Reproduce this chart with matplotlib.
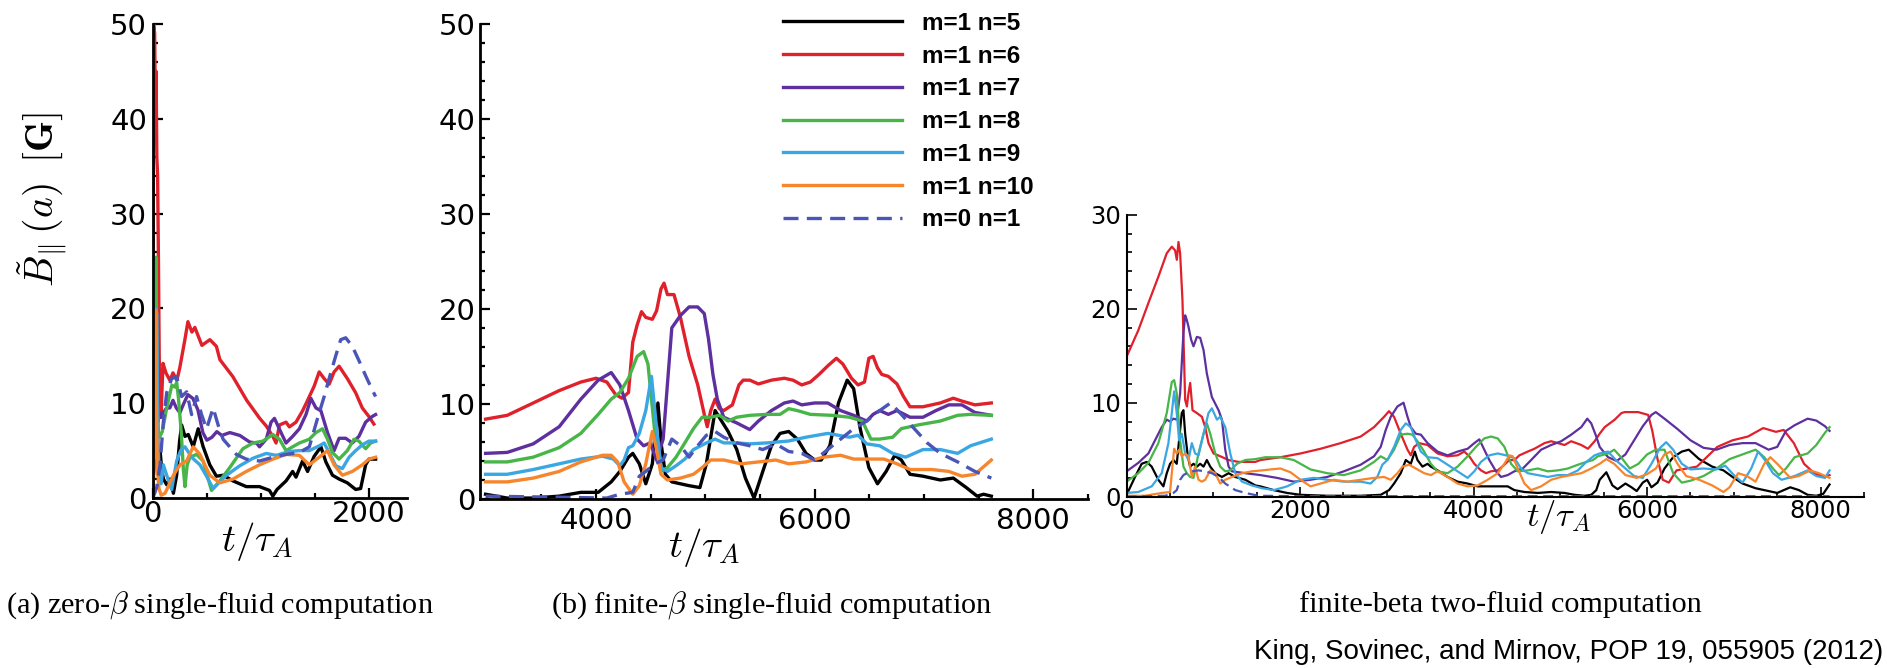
import matplotlib
matplotlib.use("Agg")
import matplotlib.pyplot as plt
from matplotlib.ticker import MultipleLocator, FixedLocator

plt.rcParams['mathtext.fontset'] = 'cm'

# series labels / colours
LABELS = ['m=1 n=5', 'm=1 n=6', 'm=1 n=7', 'm=1 n=8', 'm=1 n=9', 'm=1 n=10', 'm=0 n=1']
COLORS = ['#000000', '#e0202a', '#5e2f9e', '#47b548', '#3aa6e2', '#f7852c', '#4a55b8']

# ---- (a) zero-beta single-fluid: (t/tau_A, B [G]) ----
A_N5 = [(0, 0.2), (12, 3), (24, 5.8), (40, 4), (55, 3.9), (70, 5.0), (85, 3), (101, 2.0), (131, 1.4),
        (162, 2.0), (193, 0.5), (223, 2.4), (250, 6), (269, 7.7), (300, 6.5), (330, 6.7), (376, 5.4),
        (422, 7.3), (468, 5.4), (529, 3.5), (590, 2.3), (652, 2.4), (744, 1.8), (866, 1.2), (988, 1.2),
        (1080, 0.8), (1111, 0.2), (1150, 0.9), (1233, 1.8), (1294, 2.8), (1325, 2.2), (1386, 3.9),
        (1432, 2.8), (1493, 4.4), (1555, 5.4), (1601, 3.8), (1662, 2.4), (1723, 2.0), (1799, 1.6),
        (1876, 0.9), (1922, 1.0), (1968, 3.5), (1998, 4.1), (2060, 4.1)]
A_N6 = [(0, 1), (5, 20), (10, 50), (20, 49), (27, 40), (33, 45), (40, 36), (47, 34), (55, 25), (62, 15),
        (70, 10), (80, 9), (97, 14.2), (124, 13.2), (161, 12.4), (189, 13.2), (225, 12.4), (253, 13.8),
        (299, 16.7), (327, 18.6), (364, 17.5), (391, 18.0), (456, 16.1), (530, 16.7), (590, 16.0),
        (622, 14.6), (742, 12.8), (870, 10.3), (990, 8.4), (1050, 7.6), (1111, 6.5), (1141, 5.8),
        (1172, 7.7), (1233, 8.0), (1264, 7.5), (1325, 8.0), (1386, 9.2), (1432, 10.3), (1493, 11.8),
        (1539, 13.3), (1585, 12.6), (1631, 12.0), (1677, 13.3), (1723, 13.9), (1799, 12.6),
        (1876, 11.1), (1937, 9.5), (1998, 8.6), (2044, 7.8)]
A_N7 = [(0, 0.5), (10, 8), (18, 15), (23, 21.2), (30, 14), (40, 9), (50, 8), (65, 9), (80, 8.5),
        (100, 9.0), (130, 9.5), (160, 9.5), (189, 10.3), (220, 9.5), (253, 9.0), (290, 10.0),
        (327, 10.9), (373, 10.5), (419, 9.3), (465, 6.9), (502, 6.1), (548, 6.4), (594, 7.0),
        (640, 6.6), (714, 6.9), (806, 6.6), (898, 5.9), (961, 5.8), (988, 5.4), (1050, 6.2),
        (1095, 8.0), (1126, 8.4), (1187, 6.9), (1233, 5.8), (1294, 6.5), (1356, 7.3), (1417, 8.8),
        (1463, 10.5), (1509, 9.5), (1555, 9.2), (1616, 6.9), (1677, 5.0), (1723, 6.3), (1784, 6.3),
        (1845, 5.8), (1906, 6.5), (1968, 8.0), (2029, 8.6), (2060, 8.8)]
A_N8 = [(0, 1), (15, 8), (25, 18), (32, 25.4), (38, 18), (45, 10), (55, 7), (65, 6.4), (90, 7),
        (133, 9.6), (179, 11.9), (207, 11.7), (223, 12.2), (240, 10.5), (265, 7), (285, 3), (300, 1.2),
        (320, 3.5), (346, 4.3), (407, 4.6), (468, 3.9), (499, 2.6), (545, 0.8), (621, 1.8), (713, 3.2),
        (835, 5.2), (927, 5.8), (1019, 6.0), (1111, 6.7), (1172, 6.2), (1233, 5.0), (1294, 5.4),
        (1356, 5.8), (1448, 6.2), (1509, 6.9), (1570, 7.3), (1616, 6.2), (1662, 4.8), (1723, 4.1),
        (1799, 5.0), (1860, 6.2), (1906, 6.0), (1968, 5.2), (2014, 5.8), (2060, 6.0)]
A_N9 = [(0, 0.5), (10, 5), (20, 12), (30, 20), (40, 19.4), (48, 8), (60, 3), (80, 1.5), (100, 3.5),
        (131, 2.4), (177, 0.9), (223, 3.9), (260, 5.0), (300, 5.4), (361, 4.3), (438, 3.5), (499, 2.3),
        (560, 1.0), (683, 2.4), (806, 3.4), (929, 4.2), (1050, 4.7), (1141, 4.5), (1264, 4.9),
        (1356, 5.0), (1448, 5.0), (1539, 5.5), (1585, 5.8), (1631, 4.8), (1692, 3.4), (1753, 3.1),
        (1815, 4.3), (1876, 5.0), (1937, 5.6), (1998, 6.0), (2060, 6.0)]
A_N10 = [(0, 0), (15, 5), (25, 12), (30, 19.8), (36, 10), (45, 3), (60, 1), (80, 0.3), (116, 0.5),
         (193, 2.4), (254, 3.5), (315, 3.9), (376, 5.4), (438, 4.6), (529, 2.4), (621, 1.6), (744, 2.0),
         (866, 2.8), (988, 3.5), (1111, 4.1), (1233, 4.6), (1356, 4.5), (1448, 3.5), (1539, 4.3),
         (1616, 5.0), (1677, 3.5), (1753, 2.4), (1845, 2.8), (1937, 3.5), (1998, 4.1), (2060, 4.3)]
A_N1 = [(0, 0), (20, 0.5), (40, 1.2), (70, 3.5), (100, 8), (131, 11.1), (177, 12.6), (223, 12.8),
        (269, 10.7), (315, 11.2), (361, 8.8), (407, 10.7), (453, 8.8), (499, 7.3), (560, 9.5),
        (606, 7.7), (652, 6.2), (713, 5.4), (774, 4.6), (866, 4.1), (988, 3.9), (1111, 4.3),
        (1233, 4.6), (1356, 4.8), (1448, 5.4), (1524, 8.4), (1585, 10.7), (1631, 12.6), (1692, 15.0),
        (1738, 16.7), (1784, 16.9), (1845, 16.0), (1906, 14.5), (1968, 12.9), (2029, 11.4), (2060, 10.7)]

# ---- (b) finite-beta single-fluid ----
B_N5 = [(2991, 0.5), (3189, 0.1), (3427, 0.1), (3664, 0.3), (3862, 0.7), (4021, 0.7), (4140, 1.8),
        (4219, 2.9), (4298, 4.4), (4337, 4.8), (4397, 3.7), (4456, 1.6), (4516, 3.7), (4567, 10.1),
        (4599, 5.6), (4635, 2.6), (4694, 1.8), (4773, 1.6), (4852, 1.4), (4951, 1.2), (5010, 3.7),
        (5090, 9.3), (5149, 8.2), (5209, 7.1), (5288, 5.2), (5367, 2.2), (5446, 0.1), (5526, 2.9),
        (5605, 5.6), (5684, 6.9), (5763, 7.1), (5842, 6.3), (5921, 4.8), (6001, 4.1), (6060, 4.1),
        (6139, 5.6), (6218, 10.1), (6298, 12.5), (6357, 11.6), (6417, 7.4), (6496, 3.3), (6575, 1.6),
        (6654, 2.9), (6733, 4.6), (6793, 4.1), (6872, 2.6), (6991, 2.4), (7149, 2.0), (7268, 2.2),
        (7387, 1.2), (7486, 0.3), (7545, 0.5), (7616, 0.3)]
B_N6 = [(2991, 8.4), (3189, 8.8), (3427, 10.1), (3664, 11.4), (3862, 12.3), (4001, 12.7), (4100, 12.3),
        (4179, 11.0), (4238, 10.6), (4298, 11.2), (4337, 16.5), (4377, 18.3), (4417, 19.7),
        (4456, 19.1), (4516, 18.9), (4555, 19.8), (4595, 22.1), (4623, 22.7), (4654, 21.5),
        (4714, 21.5), (4773, 19.1), (4852, 15.0), (4931, 12.0), (4991, 8.9), (5018, 7.6), (5050, 9.3),
        (5090, 10.5), (5129, 9.5), (5169, 9.3), (5248, 9.9), (5308, 12.0), (5347, 12.5), (5407, 12.5),
        (5486, 12.1), (5605, 12.5), (5723, 12.7), (5803, 12.5), (5882, 12.0), (5961, 12.3),
        (6040, 13.1), (6120, 14.0), (6199, 14.8), (6258, 14.2), (6337, 12.7), (6397, 12.0),
        (6456, 12.3), (6496, 14.8), (6535, 15.0), (6575, 13.8), (6614, 13.1), (6674, 12.9),
        (6753, 12.1), (6812, 10.8), (6872, 9.7), (6991, 9.7), (7149, 10.1), (7268, 10.6), (7347, 10.3),
        (7466, 9.9), (7616, 10.1)]
B_N7 = [(2991, 4.8), (3189, 4.9), (3427, 5.8), (3664, 7.6), (3862, 10.5), (4021, 12.5), (4140, 13.3),
        (4219, 12.0), (4298, 9.3), (4377, 6.3), (4436, 5.6), (4496, 5.9), (4555, 4.1), (4615, 6.3),
        (4694, 18.0), (4773, 19.3), (4852, 20.2), (4931, 20.2), (4991, 19.5), (5030, 16.8),
        (5070, 13.1), (5110, 10.5), (5169, 8.6), (5288, 8.0), (5407, 7.3), (5486, 8.2), (5605, 9.3),
        (5723, 10.1), (5803, 10.3), (5882, 9.9), (6001, 10.1), (6120, 10.1), (6238, 9.3), (6357, 8.8),
        (6476, 8.2), (6535, 8.9), (6595, 9.3), (6674, 8.9), (6753, 9.3), (6872, 8.6), (6991, 8.6),
        (7109, 9.3), (7228, 9.9), (7347, 9.9), (7466, 9.1), (7616, 8.8)]
B_N8 = [(2991, 3.9), (3189, 3.9), (3427, 4.4), (3664, 5.4), (3862, 6.9), (4021, 8.9), (4140, 10.5),
        (4219, 11.2), (4298, 12.7), (4377, 15.0), (4436, 15.5), (4476, 14.2), (4535, 7.4), (4595, 2.9),
        (4654, 3.3), (4733, 4.4), (4813, 5.9), (4892, 7.4), (4971, 8.6), (5050, 8.6), (5129, 8.8),
        (5209, 8.2), (5288, 8.6), (5407, 8.8), (5565, 8.9), (5684, 8.9), (5763, 9.5), (5842, 9.3),
        (5961, 8.9), (6159, 8.8), (6318, 8.6), (6436, 8.2), (6515, 6.3), (6595, 6.3), (6714, 6.5),
        (6793, 7.4), (6951, 7.8), (7149, 8.2), (7308, 8.8), (7426, 8.9), (7616, 8.8)]
B_N9 = [(2991, 2.6), (3189, 2.6), (3427, 3.1), (3664, 3.7), (3862, 4.2), (4060, 4.5), (4159, 4.2),
        (4219, 3.5), (4258, 4.1), (4298, 5.4), (4337, 5.6), (4397, 6.9), (4456, 9.3), (4508, 12.9),
        (4555, 7.4), (4595, 3.3), (4654, 2.9), (4733, 3.5), (4813, 4.2), (4892, 5.2), (5010, 5.9),
        (5090, 6.3), (5169, 5.9), (5288, 5.9), (5407, 5.8), (5565, 5.9), (5763, 6.1), (5921, 6.5),
        (6120, 6.9), (6318, 6.5), (6397, 6.7), (6476, 5.8), (6595, 5.6), (6714, 4.8), (6832, 4.4),
        (6991, 5.2), (7149, 5.2), (7308, 4.8), (7426, 5.6), (7616, 6.3)]
B_N10 = [(2991, 1.8), (3189, 1.8), (3427, 2.2), (3664, 2.9), (3862, 3.9), (4060, 4.6), (4140, 4.6),
         (4199, 3.9), (4258, 1.8), (4337, 0.5), (4397, 1.4), (4456, 3.7), (4516, 7.1), (4555, 5.2),
         (4595, 2.6), (4654, 2.0), (4773, 2.2), (4892, 2.6), (4971, 3.3), (5050, 4.1), (5169, 4.1),
         (5328, 3.7), (5486, 3.9), (5644, 4.1), (5763, 3.7), (5921, 3.9), (6080, 4.4), (6238, 4.6),
         (6357, 4.2), (6515, 4.2), (6634, 4.2), (6753, 3.7), (6872, 3.1), (7070, 3.1), (7228, 2.9),
         (7347, 2.4), (7466, 2.6), (7616, 4.1)]
B_N1 = [(2991, 0.3), (3585, 0.2), (4100, 0.1), (4219, 0.5), (4337, 0.7), (4397, 2.4), (4456, 2.9),
        (4535, 3.7), (4615, 4.1), (4694, 6.3), (4773, 5.6), (4852, 4.4), (4931, 5.6), (5010, 6.7),
        (5090, 7.1), (5169, 6.5), (5288, 5.9), (5407, 5.6), (5526, 5.2), (5644, 5.8), (5763, 5.0),
        (5882, 4.8), (6001, 4.1), (6120, 5.2), (6238, 6.3), (6357, 7.4), (6476, 8.2), (6595, 9.3),
        (6694, 10.1), (6793, 8.9), (6911, 7.4), (7030, 5.9), (7149, 4.8), (7308, 3.9), (7466, 2.9),
        (7616, 2.2)]

# ---- (c) finite-beta two-fluid ----
C_N5 = [(0, 0.2), (97, 2.1), (174, 3.5), (232, 3.7), (289, 3.2), (366, 1.8), (424, 1.1), (463, 2.5),
        (501, 3.5), (540, 3.9), (578, 3.5), (605, 6.0), (636, 8.9), (655, 9.2), (675, 6.7), (706, 4.3),
        (732, 3.2), (771, 3.5), (810, 3.2), (848, 3.5), (887, 3.2), (925, 3.9), (964, 3.2), (1022, 2.5),
        (1099, 2.1), (1176, 2.5), (1253, 2.1), (1368, 1.8), (1484, 1.2), (1542, 1.1), (1696, 0.7),
        (1850, 0.4), (2005, 0.2), (2313, 0.1), (2698, 0.1), (2929, 0.2), (3025, 0.7), (3083, 1.4),
        (3160, 2.5), (3218, 3.9), (3276, 3.5), (3322, 4.8), (3353, 3.9), (3411, 3.2), (3469, 3.5),
        (3507, 3.2), (3584, 2.8), (3700, 2.1), (3815, 1.6), (3931, 1.4), (4046, 1.1), (4162, 1.1),
        (4278, 1.1), (4393, 1.1), (4470, 0.7), (4586, 0.5), (4740, 0.4), (4894, 0.5), (5048, 0.4),
        (5164, 0.2), (5280, 0.1), (5356, 0.2), (5414, 0.7), (5453, 1.8), (5530, 2.6), (5600, 1.2),
        (5660, 0.8), (5750, 1.4), (5820, 1.0), (5880, 0.6), (5950, 1.5), (6000, 1.8), (6050, 1.0),
        (6120, 1.5), (6200, 3.0), (6300, 4.2), (6400, 4.8), (6480, 5.0), (6600, 4.0), (6750, 3.2),
        (6880, 2.8), (7000, 2.0), (7100, 1.4), (7250, 0.9), (7400, 0.6), (7500, 0.4), (7650, 1.0),
        (7750, 0.7), (7850, 0.2), (7950, 0.1), (8030, 0.3), (8103, 1.3)]
C_N6 = [(0, 14.9), (135, 17.7), (251, 20.6), (366, 23.4), (463, 25.9), (521, 26.6), (559, 26.2),
        (579, 25.2), (598, 27.1), (617, 25.9), (644, 20.9), (675, 10.3), (695, 9.6), (713, 11.0),
        (733, 12.1), (760, 9.2), (810, 8.9), (868, 8.5), (906, 7.4), (944, 5.7), (1002, 4.6),
        (1080, 4.3), (1176, 3.9), (1291, 3.7), (1484, 3.7), (1542, 3.9), (1773, 4.2), (2005, 4.6),
        (2236, 5.1), (2467, 5.7), (2698, 6.4), (2852, 7.4), (2968, 8.5), (3025, 9.1), (3083, 8.5),
        (3160, 6.7), (3238, 5.0), (3276, 4.4), (3314, 5.3), (3372, 5.7), (3469, 5.5), (3584, 4.6),
        (3700, 4.3), (3815, 4.4), (3892, 4.8), (3950, 4.3), (4008, 3.5), (4085, 2.8), (4143, 2.5),
        (4200, 2.7), (4278, 2.8), (4355, 3.4), (4412, 3.9), (4470, 3.9), (4528, 4.4), (4624, 4.8),
        (4701, 5.1), (4817, 5.7), (4894, 5.9), (4971, 5.7), (5048, 5.5), (5125, 5.9), (5241, 5.5),
        (5318, 5.1), (5395, 5.9), (5453, 6.7), (5511, 7.4), (5627, 8.2), (5704, 8.9), (5742, 9.0),
        (5897, 9.0), (6012, 8.7), (6060, 7), (6120, 4), (6180, 1.8), (6250, 1.5), (6339, 2.8),
        (6574, 3.2), (6809, 5.3), (6985, 6.0), (7162, 6.4), (7338, 7.3), (7485, 6.9), (7574, 7.1),
        (7691, 5.7), (7809, 3.5), (7926, 2.5), (8044, 2.1), (8103, 2.3)]
C_N7 = [(0, 2.7), (135, 3.6), (251, 4.6), (328, 6.0), (405, 7.4), (463, 8.2), (501, 8.0), (540, 8.3),
        (578, 8.2), (617, 11.0), (655, 17.4), (675, 19.3), (694, 18.8), (713, 18.1), (744, 16.7),
        (771, 16.0), (810, 17.0), (848, 16.9), (887, 15.6), (925, 13.1), (983, 10.6), (1060, 9.2),
        (1099, 8.2), (1137, 5.0), (1176, 3.2), (1214, 2.7), (1368, 2.5), (1542, 2.3), (1735, 2.0),
        (1927, 1.6), (2120, 1.8), (2313, 2.1), (2505, 2.7), (2698, 3.4), (2852, 4.3), (2929, 5.3),
        (2987, 7.1), (3045, 8.5), (3122, 9.6), (3192, 10.0), (3238, 8.5), (3276, 7.4), (3334, 6.7),
        (3392, 6.6), (3469, 5.7), (3584, 4.8), (3700, 4.4), (3815, 4.8), (3931, 5.1), (4008, 5.7),
        (4066, 6.1), (4123, 5.0), (4181, 3.9), (4258, 2.7), (4316, 2.1), (4393, 2.3), (4470, 2.7),
        (4567, 3.0), (4663, 3.9), (4778, 5.0), (4894, 5.5), (5009, 5.9), (5125, 6.6), (5241, 7.4),
        (5310, 8.3), (5356, 7.8), (5414, 6.4), (5453, 5.3), (5550, 4.2), (5650, 3.8), (5750, 4.5),
        (5850, 6), (5950, 7.5), (6050, 8.7), (6100, 9.0), (6200, 8.3), (6350, 7.2), (6500, 6.0),
        (6650, 5.2), (6800, 5.0), (6950, 5.5), (7100, 5.7), (7250, 5.7), (7400, 5.0), (7500, 5.3),
        (7600, 7.0), (7700, 7.6), (7850, 8.3), (7950, 8.1), (8050, 7.5), (8103, 7.0)]
C_N8 = [(0, 1.6), (135, 2.5), (251, 3.6), (366, 5.7), (463, 8.9), (521, 12.2), (548, 12.4), (578, 11.0),
        (617, 6.0), (655, 3.2), (694, 2.5), (732, 2.1), (771, 2.0), (829, 4.6), (887, 6.7), (925, 7.8),
        (964, 6.7), (1022, 4.6), (1079, 3.2), (1137, 2.7), (1195, 2.8), (1272, 3.5), (1368, 3.9),
        (1484, 4.0), (1600, 4.2), (1773, 4.2), (1927, 3.9), (2120, 2.9), (2313, 2.5), (2505, 2.3),
        (2698, 2.8), (2852, 3.7), (2929, 4.3), (3006, 3.9), (3083, 5.0), (3160, 6.6), (3238, 6.7),
        (3295, 6.6), (3353, 5.9), (3430, 4.8), (3507, 3.5), (3584, 2.7), (3700, 2.5), (3815, 3.2),
        (3931, 4.3), (4027, 5.3), (4123, 6.2), (4200, 6.4), (4278, 6.2), (4355, 5.3), (4432, 3.5),
        (4509, 2.7), (4624, 2.8), (4740, 3.0), (4856, 2.7), (4971, 2.8), (5087, 3.0), (5202, 3.4),
        (5299, 3.7), (5376, 3.9), (5433, 4.3), (5550, 4.6), (5620, 5.0), (5700, 4.2), (5800, 3.0),
        (5900, 3.5), (6000, 4.5), (6100, 5.0), (6200, 5.0), (6300, 2.5), (6400, 1.5), (6500, 1.7),
        (6650, 2.2), (6800, 3.0), (6950, 4.0), (7100, 4.5), (7250, 5.0), (7350, 4.2), (7450, 3.0),
        (7520, 2.3), (7600, 3.0), (7700, 4.2), (7850, 4.6), (7950, 5.5), (8050, 6.8), (8103, 7.4)]
C_N9 = [(0, 0.4), (135, 0.5), (289, 1.1), (405, 2.5), (482, 5.7), (521, 8.9), (548, 11.2), (578, 8.9),
        (605, 6.0), (636, 6.7), (675, 4.6), (713, 3.9), (752, 5.7), (790, 4.6), (829, 4.4), (887, 6.7),
        (944, 8.9), (983, 9.4), (1041, 8.2), (1079, 8.5), (1137, 7.4), (1195, 4.6), (1253, 2.5),
        (1330, 1.6), (1445, 1.2), (1561, 0.9), (1696, 0.7), (1850, 1.1), (2005, 1.8), (2159, 2.0),
        (2313, 1.8), (2505, 1.6), (2698, 1.6), (2813, 1.4), (2890, 2.1), (2948, 3.4), (3006, 3.9),
        (3083, 5.3), (3160, 7.1), (3218, 7.8), (3276, 7.4), (3334, 6.0), (3392, 4.8), (3469, 4.2),
        (3584, 4.1), (3700, 3.4), (3815, 2.7), (3931, 2.0), (4008, 2.7), (4085, 3.7), (4181, 4.4),
        (4278, 4.6), (4374, 4.4), (4470, 4.1), (4547, 3.0), (4624, 2.5), (4740, 2.3), (4856, 2.1),
        (4971, 2.3), (5087, 2.3), (5202, 2.8), (5299, 3.7), (5395, 4.4), (5453, 4.6), (5550, 4.8),
        (5650, 3.8), (5750, 3.0), (5850, 2.2), (5950, 2.0), (6050, 3.5), (6150, 5.2), (6220, 5.8),
        (6300, 5.0), (6400, 3.5), (6500, 2.9), (6650, 3.0), (6800, 2.9), (6900, 3.3), (7000, 2.3),
        (7100, 1.5), (7200, 3.0), (7280, 4.8), (7350, 4.0), (7450, 2.5), (7550, 1.8), (7700, 2.2),
        (7850, 2.8), (7950, 2.2), (8050, 2.0), (8103, 2.8)]
C_N10 = [(0, 0.1), (212, 0.1), (405, 0.4), (501, 0.5), (521, 2.5), (548, 5.1), (578, 4.6), (605, 5.0),
         (636, 4.3), (675, 4.6), (713, 4.3), (752, 2.1), (790, 3.2), (829, 1.8), (867, 1.6), (906, 1.8),
         (964, 2.8), (1022, 2.5), (1079, 1.4), (1137, 1.8), (1214, 2.1), (1330, 2.5), (1445, 2.7),
         (1561, 2.8), (1658, 2.9), (1773, 3.0), (1889, 2.6), (2005, 1.8), (2120, 1.1), (2236, 1.4),
         (2390, 1.8), (2544, 1.6), (2698, 1.8), (2852, 2.0), (2968, 2.1), (3045, 1.8), (3122, 2.5),
         (3180, 3.2), (3257, 3.4), (3334, 3.0), (3430, 2.5), (3507, 2.3), (3584, 2.7), (3700, 2.1),
         (3815, 1.4), (3931, 1.1), (4046, 1.2), (4162, 1.8), (4278, 2.5), (4355, 3.5), (4412, 4.4),
         (4451, 4.3), (4509, 3.0), (4586, 1.4), (4663, 0.7), (4778, 1.1), (4894, 1.8), (5009, 2.1),
         (5125, 2.3), (5241, 2.5), (5356, 3.0), (5453, 3.5), (5530, 4.0), (5620, 3.5), (5750, 2.3),
         (5880, 2.0), (6000, 2.4), (6100, 3.0), (6200, 4.5), (6270, 4.8), (6350, 3.5), (6450, 2.2),
         (6600, 1.8), (6750, 1.2), (6880, 0.5), (6950, 1.0), (7050, 2.5), (7150, 2.2), (7250, 1.6),
         (7350, 3.5), (7420, 4.2), (7500, 3.5), (7650, 2.0), (7750, 2.2), (7880, 2.8), (7980, 2.5),
         (8103, 2.0)]
C_N1 = [(0, 0), (443, 0.1), (540, 0.4), (578, 0.7), (617, 1.8), (655, 2.3), (694, 2.5), (752, 2.7),
        (829, 2.8), (906, 2.7), (983, 2.5), (1060, 2.1), (1137, 1.4), (1253, 0.7), (1368, 0.4),
        (1522, 0.1), (2000, 0.05), (8103, 0.05)]

PANEL_A = [A_N5, A_N6, A_N7, A_N8, A_N9, A_N10, A_N1]
PANEL_B = [B_N5, B_N6, B_N7, B_N8, B_N9, B_N10, B_N1]
PANEL_C = [C_N5, C_N6, C_N7, C_N8, C_N9, C_N10, C_N1]

W, H = 1887, 668
fig = plt.figure(figsize=(W / 100, H / 100), dpi=100)


def px_axes(left, right, top, bottom):
    return fig.add_axes([left / W, 1 - bottom / H, (right - left) / W, (bottom - top) / H])


def draw(ax, series, lw):
    lines = []
    for data, col, lab in zip(series, COLORS, LABELS):
        t, b = zip(*data)
        if lab == 'm=0 n=1':
            ln, = ax.plot(t, b, color=col, lw=lw, ls=(0, (4.5, 2.5)), label=lab)
        else:
            ln, = ax.plot(t, b, color=col, lw=lw, label=lab)
        lines.append(ln)
    return lines


def style(ax, spine_w, fsize, xpad, ypad):
    for s in ['top', 'right']:
        ax.spines[s].set_visible(False)
    for s in ['left', 'bottom']:
        ax.spines[s].set_linewidth(spine_w)
    ax.tick_params(which='both', direction='in', width=spine_w * 0.8)
    ax.tick_params(which='major', length=7, labelsize=fsize)
    ax.tick_params(which='minor', length=3.5)
    ax.tick_params(axis='x', pad=xpad)
    ax.tick_params(axis='y', pad=ypad)


# panel a
ax_a = px_axes(152.5, 407, 24, 498)
draw(ax_a, PANEL_A, 2.4)
ax_a.set_xlim(0, 2350)
ax_a.set_ylim(0, 50)
ax_a.xaxis.set_major_locator(FixedLocator([0, 2000]))
ax_a.xaxis.set_minor_locator(MultipleLocator(500))
ax_a.yaxis.set_major_locator(MultipleLocator(10))
ax_a.yaxis.set_minor_locator(MultipleLocator(2))
style(ax_a, 2.0, 21, 1.5, 4)
ax_a.set_xlabel(r'$t/\tau_A$', fontsize=28)
ax_a.xaxis.set_label_coords(0.41, -0.046)
ax_a.set_ylabel(r'$\tilde{B}_{\Vert}\,(a)\;\;[\mathbf{G}]$', fontsize=28.5)
ax_a.yaxis.set_label_coords(-0.33, 0.63)

# panel b
ax_b = px_axes(480, 1088, 23.6, 499)
lines = draw(ax_b, PANEL_B, 2.4)
ax_b.set_xlim(2940, 8500)
ax_b.set_ylim(0, 50)
ax_b.xaxis.set_major_locator(FixedLocator([4000, 6000, 8000]))
ax_b.xaxis.set_minor_locator(MultipleLocator(500))
ax_b.yaxis.set_major_locator(MultipleLocator(10))
ax_b.yaxis.set_minor_locator(MultipleLocator(2))
style(ax_b, 2.0, 21, 5.5, 3)
ax_b.set_xlabel(r'$t/\tau_A$', fontsize=28)
ax_b.xaxis.set_label_coords(0.368, -0.057)
ax_b.legend(handles=lines, loc='upper left', bbox_to_anchor=(783 / W, 1 - 12 / H),
            bbox_transform=fig.transFigure, frameon=False, borderpad=0, borderaxespad=0,
            handlelength=4.9, handletextpad=0.8, labelspacing=0.4,
            prop={'family': 'Liberation Sans', 'weight': 'bold', 'size': 17.5})

# panel c
ax_c = px_axes(1126.6, 1864, 214.7, 496.7)
draw(ax_c, PANEL_C, 1.6)
ax_c.set_xlim(0, 8500)
ax_c.set_ylim(0, 30)
ax_c.xaxis.set_major_locator(FixedLocator([0, 2000, 4000, 6000, 8000]))
ax_c.xaxis.set_minor_locator(MultipleLocator(500))
ax_c.yaxis.set_major_locator(MultipleLocator(10))
ax_c.yaxis.set_minor_locator(MultipleLocator(2))
style(ax_c, 1.5, 17.5, 2, 4)
ax_c.set_xlabel(r'$t/\tau_A$', fontsize=25)
ax_c.xaxis.set_label_coords(0.585, -0.005)

# captions
serif = {'family': 'Liberation Serif', 'size': 21.8}
fig.text(6 / W, 1 - 605 / H, r'(a) zero-$\beta$ single-fluid computation', ha='left', va='center', **serif)
fig.text(551 / W, 1 - 605 / H, r'(b) finite-$\beta$ single-fluid computation', ha='left', va='center', **serif)
fig.text(1500 / W, 1 - 605 / H, 'finite-beta two-fluid computation', ha='center', va='center', **serif)
fig.text(1883 / W, 1 - 652 / H, 'King, Sovinec, and Mirnov, POP 19, 055905 (2012)', ha='right',
         va='center', family='Liberation Sans', size=20)

fig.savefig('out.png', dpi=100)
